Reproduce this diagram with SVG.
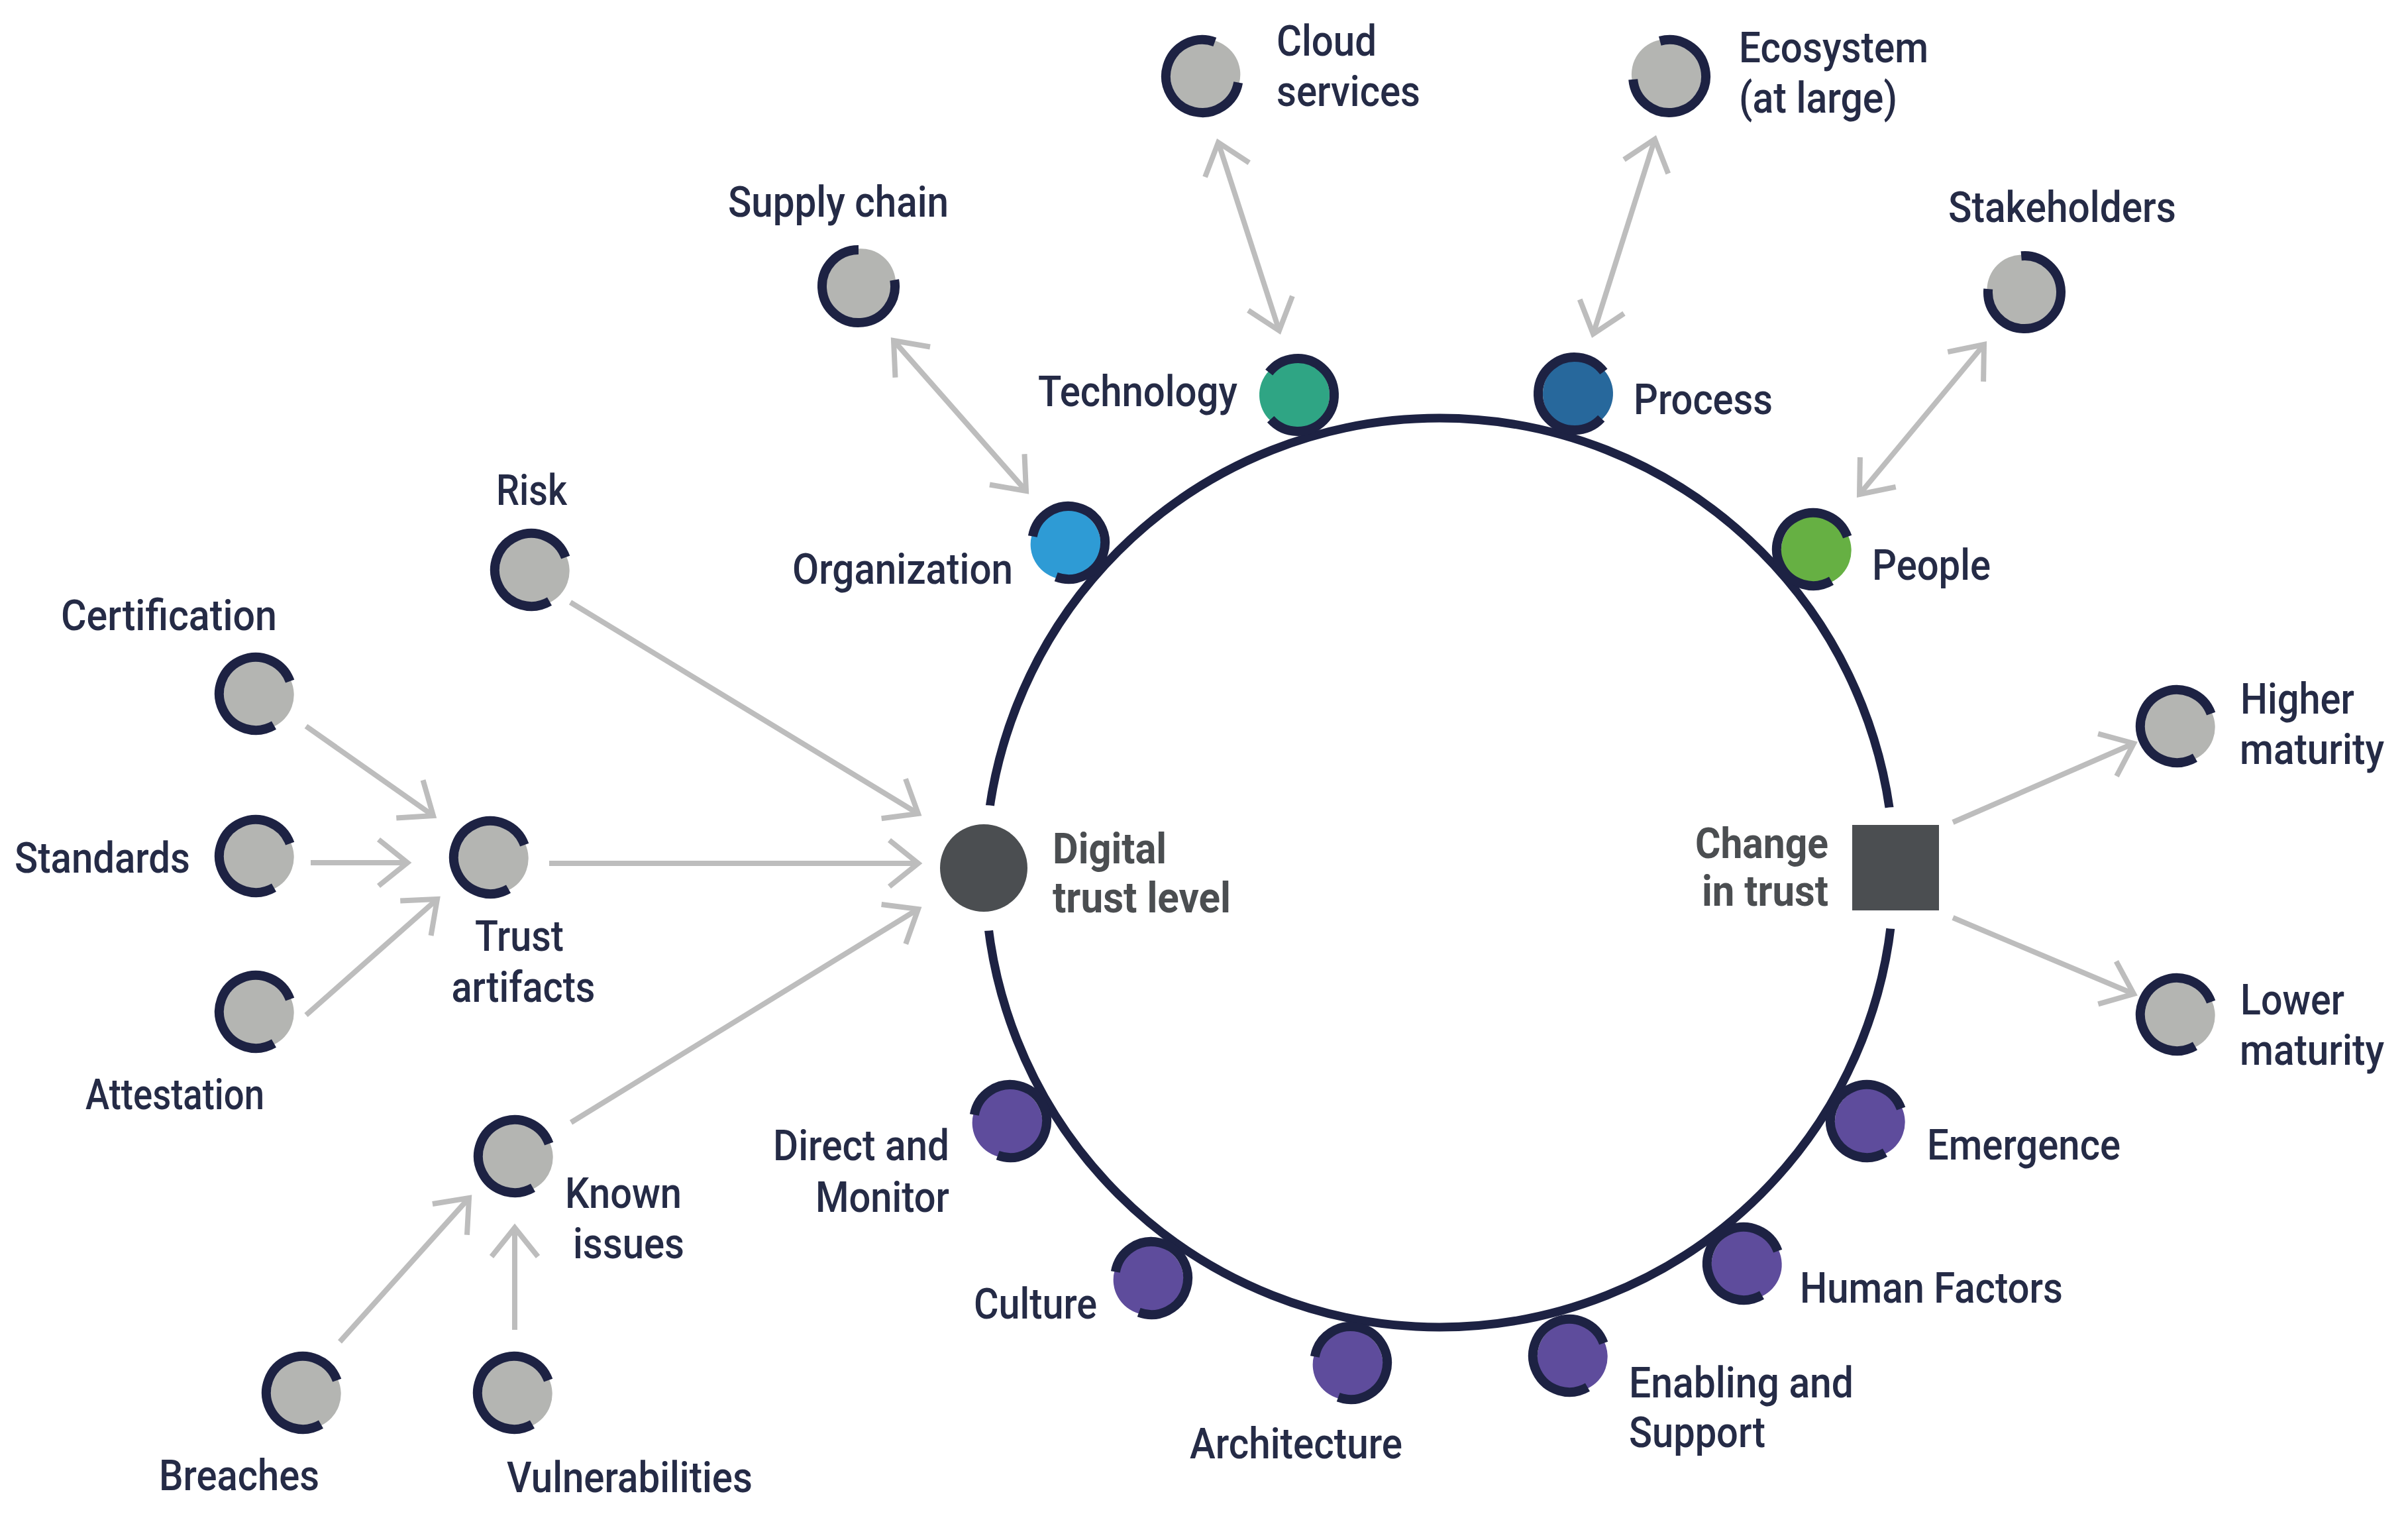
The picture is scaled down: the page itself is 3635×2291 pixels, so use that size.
<svg xmlns="http://www.w3.org/2000/svg" xmlns:xlink="http://www.w3.org/1999/xlink" width="3635" height="2291" viewBox="0 0 3635 2291">
<style>
.lbl{font-family:Roboto,"Liberation Sans",sans-serif;font-size:64px;font-weight:500;fill:#252b46}
.bld{font-family:Roboto,"Liberation Sans",sans-serif;font-size:64px;font-weight:700;fill:#4b4e51}
.mid{text-anchor:middle}
.end{text-anchor:end}
.ring{fill:none;stroke:#1d2243;stroke-width:14}
.fg{fill:currentColor}
.conn{fill:none;stroke:#bdbdbd;stroke-width:8}
.gray{color:#b4b5b2}
.teal{color:#2fa584}
.blue{color:#27689c}
.cyan{color:#2e9bd5}
.green{color:#66b043}
.purple{color:#5e4c9c}
</style>
<defs>
<symbol id="glyph" overflow="visible">
<circle class="fg" cx="5" cy="0" r="53"/>
<path class="ring" d="M42.13,35.35 A55,55 0 1 1 42.13,-35.35"/>
</symbol>
<marker id="ah" viewBox="-60 -45 70 90" refX="0" refY="0" markerWidth="70" markerHeight="90" markerUnits="userSpaceOnUse" orient="auto-start-reverse">
<path d="M-43.5,-35 L0,0 L-43.5,35" fill="none" stroke="#bdbdbd" stroke-width="8"/>
</marker>
</defs>
<rect x="0" y="0" width="3635" height="2291" fill="#ffffff"/>

<g id="main-circle">
<circle cx="2173" cy="1317" r="686" fill="none" stroke="#1d2243" stroke-width="13"/>
<circle cx="1485" cy="1310" r="95" fill="#ffffff"/>
<circle cx="2861" cy="1310" r="92" fill="#ffffff"/>
</g>

<g id="connectors">
<line class="conn" x1="1349" y1="514" x2="1549" y2="741" marker-start="url(#ah)" marker-end="url(#ah)"/>
<line class="conn" x1="1839" y1="215" x2="1931" y2="499" marker-start="url(#ah)" marker-end="url(#ah)"/>
<line class="conn" x1="2498" y1="210" x2="2405" y2="504" marker-start="url(#ah)" marker-end="url(#ah)"/>
<line class="conn" x1="2995" y1="520" x2="2807" y2="746" marker-start="url(#ah)" marker-end="url(#ah)"/>
<line class="conn" x1="861" y1="909" x2="1386" y2="1228" marker-end="url(#ah)"/>
<line class="conn" x1="829" y1="1303" x2="1386" y2="1303" marker-end="url(#ah)"/>
<line class="conn" x1="862" y1="1694" x2="1386" y2="1372" marker-end="url(#ah)"/>
<line class="conn" x1="462" y1="1096" x2="654" y2="1231" marker-end="url(#ah)"/>
<line class="conn" x1="469" y1="1302" x2="615" y2="1302" marker-end="url(#ah)"/>
<line class="conn" x1="462" y1="1532" x2="660" y2="1357" marker-end="url(#ah)"/>
<line class="conn" x1="513" y1="2025" x2="708" y2="1808" marker-end="url(#ah)"/>
<line class="conn" x1="777" y1="2007" x2="777" y2="1853" marker-end="url(#ah)"/>
<line class="conn" x1="2948" y1="1241" x2="3221" y2="1122" marker-end="url(#ah)"/>
<line class="conn" x1="2948" y1="1385" x2="3221" y2="1500" marker-end="url(#ah)"/>
</g>

<g id="digital-trust-level">
<circle cx="1485" cy="1310" r="66" fill="#4b4e51"/>
<text class="bld" x="1589" y="1303" textLength="172" lengthAdjust="spacingAndGlyphs">Digital</text>
<text class="bld" x="1589" y="1377" textLength="269" lengthAdjust="spacingAndGlyphs">trust level</text>
</g>

<g id="change-in-trust">
<rect x="2796" y="1245" width="131" height="129" fill="#4b4e51"/>
<text class="bld end" x="2760" y="1295" textLength="201" lengthAdjust="spacingAndGlyphs">Change</text>
<text class="bld end" x="2760" y="1367" textLength="191" lengthAdjust="spacingAndGlyphs">in trust</text>
</g>

<g id="cloud-services">
<use xlink:href="#glyph" class="gray" transform="translate(1815,115) rotate(-30)"/>
<text class="lbl" x="1927" y="84" textLength="151" lengthAdjust="spacingAndGlyphs">Cloud</text>
<text class="lbl" x="1927" y="160" textLength="217" lengthAdjust="spacingAndGlyphs">services</text>
</g>

<g id="ecosystem">
<use xlink:href="#glyph" class="gray" transform="translate(2520,115) rotate(215)"/>
<text class="lbl" x="2625" y="94" textLength="286" lengthAdjust="spacingAndGlyphs">Ecosystem</text>
<text class="lbl" x="2625" y="170" textLength="239" lengthAdjust="spacingAndGlyphs">(at large)</text>
</g>

<g id="supply-chain">
<use xlink:href="#glyph" class="gray" transform="translate(1296,432) rotate(-50)"/>
<text class="lbl" x="1099" y="327" textLength="333" lengthAdjust="spacingAndGlyphs">Supply chain</text>
</g>

<g id="stakeholders">
<use xlink:href="#glyph" class="gray" transform="translate(3056,441) rotate(225)"/>
<text class="lbl" x="2941" y="335" textLength="344" lengthAdjust="spacingAndGlyphs">Stakeholders</text>
</g>

<g id="technology">
<use xlink:href="#glyph" class="teal" transform="translate(1959,596) rotate(178)"/>
<text class="lbl" x="1567" y="613" textLength="301" lengthAdjust="spacingAndGlyphs">Technology</text>
</g>

<g id="process">
<use xlink:href="#glyph" class="blue" transform="translate(2377,594) rotate(3)"/>
<text class="lbl" x="2466" y="625" textLength="210" lengthAdjust="spacingAndGlyphs">Process</text>
</g>

<g id="organization">
<use xlink:href="#glyph" class="cyan" transform="translate(1613,819) rotate(150)"/>
<text class="lbl" x="1196" y="881" textLength="333" lengthAdjust="spacingAndGlyphs">Organization</text>
</g>

<g id="people">
<use xlink:href="#glyph" class="green" transform="translate(2737,829) rotate(20)"/>
<text class="lbl" x="2826" y="875" textLength="179" lengthAdjust="spacingAndGlyphs">People</text>
</g>

<g id="risk">
<use xlink:href="#glyph" class="gray" transform="translate(802,860) rotate(20)"/>
<text class="lbl" x="749" y="762" textLength="107" lengthAdjust="spacingAndGlyphs">Risk</text>
</g>

<g id="certification">
<use xlink:href="#glyph" class="gray" transform="translate(386,1047) rotate(20)"/>
<text class="lbl" x="92" y="951" textLength="326" lengthAdjust="spacingAndGlyphs">Certification</text>
</g>

<g id="standards">
<use xlink:href="#glyph" class="gray" transform="translate(386,1292) rotate(20)"/>
<text class="lbl" x="22" y="1317" textLength="265" lengthAdjust="spacingAndGlyphs">Standards</text>
</g>

<g id="trust-artifacts">
<use xlink:href="#glyph" class="gray" transform="translate(740,1294) rotate(20)"/>
<text class="lbl mid" x="784" y="1435" textLength="134" lengthAdjust="spacingAndGlyphs">Trust</text>
<text class="lbl mid" x="790" y="1512" textLength="217" lengthAdjust="spacingAndGlyphs">artifacts</text>
</g>

<g id="attestation">
<use xlink:href="#glyph" class="gray" transform="translate(386,1527) rotate(20)"/>
<text class="lbl" x="129" y="1674" textLength="270" lengthAdjust="spacingAndGlyphs">Attestation</text>
</g>

<g id="known-issues">
<use xlink:href="#glyph" class="gray" transform="translate(777,1745) rotate(20)"/>
<text class="lbl mid" x="941" y="1823" textLength="176" lengthAdjust="spacingAndGlyphs">Known</text>
<text class="lbl mid" x="949" y="1899" textLength="168" lengthAdjust="spacingAndGlyphs">issues</text>
</g>

<g id="breaches">
<use xlink:href="#glyph" class="gray" transform="translate(457,2102) rotate(20)"/>
<text class="lbl" x="240" y="2249" textLength="242" lengthAdjust="spacingAndGlyphs">Breaches</text>
</g>

<g id="vulnerabilities">
<use xlink:href="#glyph" class="gray" transform="translate(776,2102) rotate(20)"/>
<text class="lbl" x="765" y="2252" textLength="371" lengthAdjust="spacingAndGlyphs">Vulnerabilities</text>
</g>

<g id="higher-maturity">
<use xlink:href="#glyph" class="gray" transform="translate(3286,1096) rotate(20)"/>
<text class="lbl" x="3382" y="1077" textLength="172" lengthAdjust="spacingAndGlyphs">Higher</text>
<text class="lbl" x="3381" y="1153" textLength="218" lengthAdjust="spacingAndGlyphs">maturity</text>
</g>

<g id="lower-maturity">
<use xlink:href="#glyph" class="gray" transform="translate(3286,1531) rotate(20)"/>
<text class="lbl" x="3382" y="1531" textLength="157" lengthAdjust="spacingAndGlyphs">Lower</text>
<text class="lbl" x="3381" y="1607" textLength="218" lengthAdjust="spacingAndGlyphs">maturity</text>
</g>

<g id="direct-and-monitor">
<use xlink:href="#glyph" class="purple" transform="translate(1525,1692) rotate(150)"/>
<text class="lbl end" x="1433" y="1751" textLength="266" lengthAdjust="spacingAndGlyphs">Direct and</text>
<text class="lbl end" x="1433" y="1829" textLength="202" lengthAdjust="spacingAndGlyphs">Monitor</text>
</g>

<g id="culture">
<use xlink:href="#glyph" class="purple" transform="translate(1738,1929) rotate(150)"/>
<text class="lbl" x="1470" y="1990" textLength="186" lengthAdjust="spacingAndGlyphs">Culture</text>
</g>

<g id="architecture">
<use xlink:href="#glyph" class="purple" transform="translate(2039,2057) rotate(150)"/>
<text class="lbl" x="1796" y="2201" textLength="321" lengthAdjust="spacingAndGlyphs">Architecture</text>
</g>

<g id="enabling-and-support">
<use xlink:href="#glyph" class="purple" transform="translate(2369,2046) rotate(20)"/>
<text class="lbl" x="2459" y="2109" textLength="339" lengthAdjust="spacingAndGlyphs">Enabling and</text>
<text class="lbl" x="2459" y="2184" textLength="206" lengthAdjust="spacingAndGlyphs">Support</text>
</g>

<g id="human-factors">
<use xlink:href="#glyph" class="purple" transform="translate(2632,1907) rotate(20)"/>
<text class="lbl" x="2717" y="1966" textLength="397" lengthAdjust="spacingAndGlyphs">Human Factors</text>
</g>

<g id="emergence">
<use xlink:href="#glyph" class="purple" transform="translate(2818,1692) rotate(20)"/>
<text class="lbl" x="2909" y="1750" textLength="292" lengthAdjust="spacingAndGlyphs">Emergence</text>
</g>
</svg>
